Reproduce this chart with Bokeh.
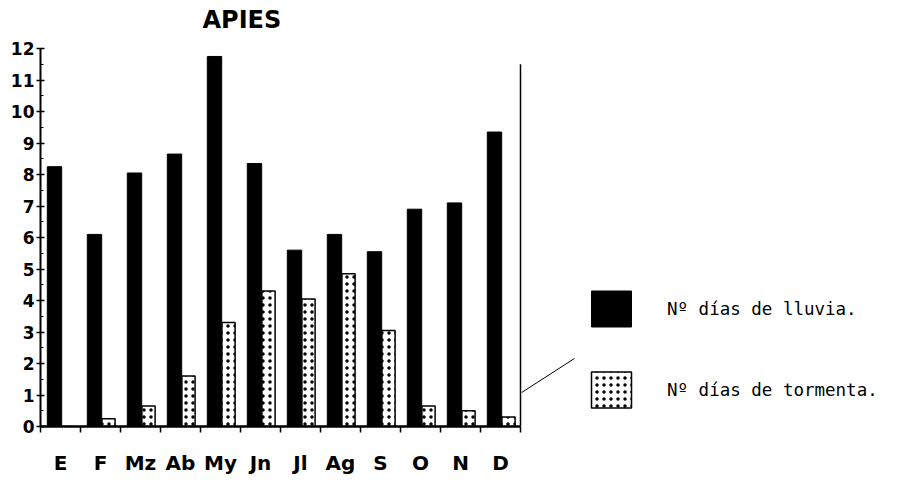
import numpy as np
from bokeh.plotting import figure
from bokeh.models import Range1d, FixedTicker, Legend, LegendItem, ColumnDataSource, Label
from bokeh.embed import file_html
from bokeh.resources import INLINE

# ---- data ----
months = ["E", "F", "Mz", "Ab", "My", "Jn", "Jl", "Ag", "S", "O", "N", "D"]
dias_lluvia = [8.25, 6.1, 8.05, 8.65, 11.75, 8.35, 5.6, 6.1, 5.55, 6.9, 7.1, 9.35]
dias_tormenta = [0.0, 0.25, 0.65, 1.6, 3.3, 4.3, 4.05, 4.85, 3.05, 0.65, 0.5, 0.3]
y_ticks = list(range(0, 13))
title_text = "APIES"
legend_labels = ["Nº días de lluvia.", "Nº días de tormenta."]

n = len(months)
y_max = y_ticks[-1]
idx = np.arange(n)
src = ColumnDataSource(dict(
    xl=idx + 0.35, xt=idx + 0.7,
    lluvia=dias_lluvia, tormenta=dias_tormenta,
))

# frame extends beyond the axes (axes are bounded) so the title,
# legend and pointer line can be drawn inside it
p = figure(frame_width=840, frame_height=422,
           min_border_left=40, min_border_top=4, min_border_bottom=40,
           min_border_right=0,
           x_range=Range1d(0, 21), y_range=Range1d(0, 13.4),
           output_backend="svg", toolbar_location=None)
p.outline_line_color = None
p.grid.grid_line_color = None
p.background_fill_color = "white"
p.border_fill_color = "white"

p.add_layout(Label(x=162, y=407, x_units="screen", y_units="screen",
                   text=title_text, text_font="DejaVu Sans", text_font_size="24px",
                   text_font_style="bold", text_color="black",
                   text_baseline="middle", text_align="left"))

r1 = p.vbar(x="xl", top="lluvia", width=0.36, source=src,
            fill_color="black", line_color="black", line_width=1)
r2 = p.vbar(x="xt", top="tormenta", width=0.33, source=src,
            fill_color="white", line_color="black", line_width=1.5,
            hatch_pattern="dot", hatch_color="black", hatch_scale=7, hatch_weight=2.4)

# right edge line of the chart box and pointer line towards the legend
p.segment(x0=[n], y0=[0], x1=[n], y1=[11.5], line_color="black", line_width=1.5)
p.segment(x0=[n + 0.03], y0=[1.08], x1=[n + 1.35], y1=[2.16],
          line_color="black", line_width=1)

# y axis
ya = p.yaxis[0]
ya.bounds = (0, y_max)
ya.ticker = FixedTicker(ticks=y_ticks,
                        minor_ticks=[t + 0.5 for t in y_ticks[:-1]])
ya.axis_line_width = 2
ya.major_tick_out = 4
ya.major_tick_in = 4
ya.minor_tick_in = 3
ya.minor_tick_out = 0
ya.major_tick_line_width = 1.5
ya.major_label_standoff = 2
ya.major_label_text_font = "DejaVu Sans"
ya.major_label_text_font_style = "bold"
ya.major_label_text_font_size = "17px"
ya.major_label_text_color = "black"

# x axis: boundary ticks (minor), labels at centres (major)
xa = p.xaxis[0]
xa.bounds = (0, n)
centers = [i + 0.5 for i in range(n)]
xa.ticker = FixedTicker(ticks=centers, minor_ticks=list(range(n + 1)))
xa.major_label_overrides = {c: m for c, m in zip(centers, months)}
xa.major_tick_line_color = None
xa.major_tick_out = 0
xa.major_tick_in = 0
xa.minor_tick_out = 6
xa.minor_tick_in = 0
xa.minor_tick_line_width = 1.5
xa.axis_line_width = 2.5
xa.major_label_standoff = 18
xa.major_label_text_font = "DejaVu Sans"
xa.major_label_text_font_size = "20px"
xa.major_label_text_font_style = "bold"
xa.major_label_text_color = "black"

legend = Legend(items=[
    LegendItem(label=legend_labels[0], renderers=[r1]),
    LegendItem(label=legend_labels[1], renderers=[r2]),
], location=(546, 14))
legend.glyph_width = 50
legend.glyph_height = 45
legend.spacing = 36
legend.label_standoff = 31
legend.padding = 0
legend.margin = 0
legend.border_line_color = None
legend.background_fill_alpha = 0
legend.label_text_font = "DejaVu Sans Mono"
legend.label_text_font_size = "17.5px"
legend.label_text_color = "black"
p.add_layout(legend)

open("out.html", "w").write(file_html(p, INLINE))
